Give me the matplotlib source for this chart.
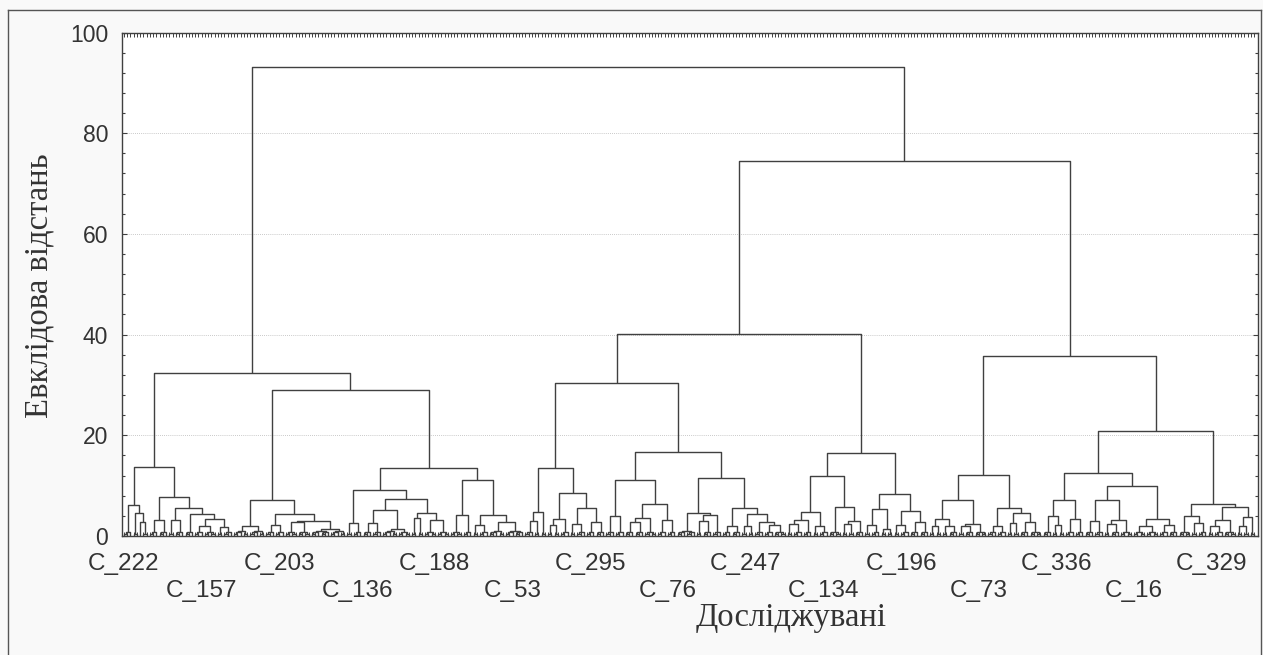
import matplotlib
matplotlib.use("Agg")
import matplotlib.pyplot as plt
from matplotlib.collections import LineCollection
from matplotlib.lines import Line2D
from matplotlib.ticker import MultipleLocator

# dendrogram: [merge height, left, right]
# an int is a run of that many cases that join below ~1.5
A1 = [6.1, 3, [4.6, 2, [2.7, 1, 2]]]
A2 = [7.7, [3.2, 3, 3], [5.5, [3.1, 2, 3], [4.3, 3, [3.4, [2.0, 3, 4], [1.8, 2, 3]]]]]
B1 = [7.2, [1.9, 5, 5], [4.3, [2.2, 3, 3], [3.0, [2.7, 4, 4], 11]]]
B2 = [13.6,
      [9.1, [2.6, 2, 3], [7.3, [5.2, [2.6, 3, 3], 9], [4.5, [3.5, 2, 2], [3.1, 4, 4]]]],
      [11.2, [4.2, 4, 3], [4.1, [2.1, 2, 3], [2.8, 5, 6]]]]
P = [13.6, [4.8, [2.9, 3, 2], 2], [8.5, [3.4, [2.2, 2, 2], 3], [5.6, [2.4, 2, 3], [2.7, 3, 3]]]]
Q1 = [11.2, [3.9, 3, 3], [6.3, [3.6, [2.7, 3, 3], 4], [3.2, 3, 3]]]
Q2 = [11.6, [4.6, 6, [4.2, [3.0, 2, 3], 3]],
      [5.6, [2.0, 3, 3], [4.4, [1.9, 2, 2], [2.8, 3, [2.2, 3, 4]]]]]
M2 = [16.4,
      [12.0, [4.8, [3.2, [2.3, 2, 3], 3], [2.0, 2, 3]], [5.7, 4, [3.0, [2.3, 2, 2], 3]]],
      [8.3, [5.4, [2.2, 2, 3], [1.4, 2, 2]], [5.0, [2.2, 2, 3], [2.8, 3, 3]]]]
N1 = [12.2, [7.1, [3.4, [2.0, 2, 2], [1.9, 2, 3]], [2.3, [1.9, 2, 3], 4]],
      [5.6, [1.9, 3, 3], [4.6, [2.6, 2, 2], [2.8, 3, 4]]]]
N2 = [20.9,
      [12.6, [7.1, [4.0, 3, [2.1, 2, 2]], [3.4, 3, 3]],
             [9.9, [7.2, [3.0, 3, 3], [3.2, [2.4, 2, 3], 4]], [3.4, [2.0, 4, 4], [2.2, 3, 3]]]],
      [6.3, [4.0, 4, [2.5, 2, 3]], [5.8, [3.2, [1.9, 2, 3], 4], [3.8, [1.9, 2, 2], 2]]]]

TREE = [93.2,
        [32.3, [13.7, A1, A2], [29.0, B1, B2]],
        [74.4, [40.1, [30.4, P, [16.7, Q1, Q2]], M2], [35.7, N1, N2]]]

# heights of the tiny joins inside a run (by level)
LOW_STEPS = [0.4, 0.75, 1.05, 1.35]

# every 24th case is named on the axis
LABEL_LEAVES = [1, 25, 49, 73, 97, 121, 145, 169, 193, 217, 241, 265, 289, 313, 337]
LABELS = ["C_222", "C_157", "C_203", "C_136", "C_188", "C_53", "C_295", "C_76",
          "C_247", "C_134", "C_196", "C_73", "C_336", "C_16", "C_329"]

segs = []
leaves = []


def run(n):
    if n == 1:
        leaves.append(len(leaves) + 1)
        return leaves[-1], 0.0
    a = (n + 1) // 2
    xl, hl = run(a)
    xr, hr = run(n - a)
    h = LOW_STEPS[(n - 1).bit_length() - 1]
    segs.append([(xl, hl), (xl, h), (xr, h), (xr, hr)])
    return (xl + xr) / 2, h


def node(t):
    if isinstance(t, int):
        return run(t)
    h, left, right = t
    xl, hl = node(left)
    xr, hr = node(right)
    segs.append([(xl, hl), (xl, h), (xr, h), (xr, hr)])
    return (xl + xr) / 2, h


node(TREE)
n_leaves = len(leaves)

fig = plt.figure(figsize=(12.63, 6.55), dpi=100, facecolor="#f9f9f9")
ax = fig.add_axes([122 / 1263, 119 / 655, 1136 / 1263, 503.5 / 655])
ax.set_facecolor("white")

ax.add_collection(LineCollection(segs, colors="#404040", linewidths=1.0))

ax.set_xlim(1 - 2 / 3.238, n_leaves + 4 / 3.238)
ax.set_ylim(0, 100)

for s in ax.spines.values():
    s.set_color("#404040")
    s.set_linewidth(1.0)

ax.yaxis.set_major_locator(MultipleLocator(20))
ax.yaxis.set_minor_locator(MultipleLocator(4))
ax.yaxis.grid(True, which="major", linestyle=(0, (1, 1.5)), color="#b8b8b8", linewidth=0.6)
ax.set_axisbelow(True)

ax.set_xticks(LABEL_LEAVES)
ax.set_xticklabels([])
ax.set_xticks(leaves, minor=True)

ax.tick_params(axis="y", which="both", direction="in", left=True, right=True,
               colors="#404040", labelcolor="#333333", labelsize=16.5, pad=10)
ax.tick_params(axis="y", which="major", length=3.6, width=0.8)
ax.tick_params(axis="y", which="minor", length=2.2, width=0.8)
ax.tick_params(axis="x", which="both", direction="in", top=True, bottom=True,
               length=3, width=0.7, colors="#404040")
for lab in ax.get_yticklabels():
    lab.set_family("Liberation Sans")

# case names in two staggered rows under the axis
trans = ax.get_xaxis_transform()
for i, (leaf, name) in enumerate(zip(LABEL_LEAVES, LABELS)):
    y = -0.1217 if i % 2 else -0.0675
    ax.text(leaf, y, name, transform=trans, ha="center", va="baseline",
            family="Liberation Sans", fontsize=17.5, color="#333333", clip_on=False)

fig.text(791 / 1263, 1 - 618 / 655, "Досліджувані", family="Liberation Serif",
         fontsize=23.5, color="#333333", ha="center", va="center")
fig.text(39 / 1263, 1 - 286 / 655, "Евклідова відстань", family="Liberation Serif",
         fontsize=23.5, color="#333333", ha="center", va="center", rotation=90)

# outer frame of the picture
W, H = 1263, 655
for xs, ys in [((8, 8), (0, H - 10)), ((8, 1261), (H - 10, H - 10)), ((1261, 1261), (0, H - 10))]:
    fig.add_artist(Line2D([x / W for x in xs], [y / H for y in ys], color="#555555", lw=1.0))

fig.savefig("out.png", dpi=100, facecolor=fig.get_facecolor())
